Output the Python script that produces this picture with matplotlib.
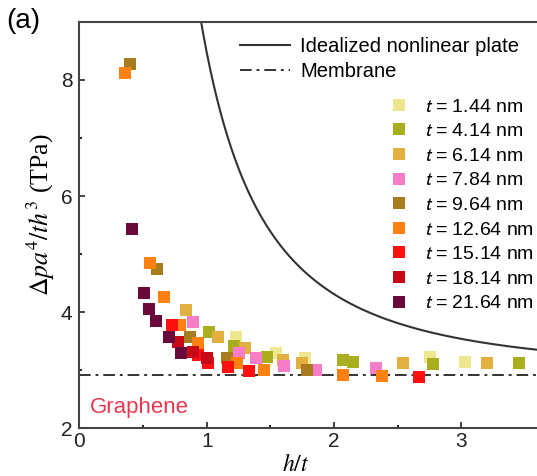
import numpy as np
import matplotlib
matplotlib.use('Agg')
import matplotlib.pyplot as plt
from matplotlib.font_manager import FontProperties

# thicknesses and their marker colours
labels = ['1.44', '4.14', '6.14', '7.84', '9.64', '12.64', '15.14', '18.14', '21.64']
colors = ['#EEE78F', '#A9AE1E', '#E2B040', '#F77DC9', '#A67C1E',
          '#FF8210', '#FF1010', '#C80A18', '#6A0A3A']

# h/t values for each thickness
x_144 = [1.23, 1.54, 1.77, 2.75, 3.03]
x_414 = [1.02, 1.21, 1.47, 2.07, 2.15, 2.78, 3.45]
x_614 = [0.84, 1.09, 1.30, 1.60, 1.75, 2.54, 3.20]
x_784 = [0.89, 1.25, 1.39, 1.61, 1.86, 2.33]
x_964 = [0.40, 0.61, 0.87, 1.16, 1.79]
x_1264 = [0.36, 0.555, 0.66, 0.79, 0.93, 1.24, 1.45, 2.07, 2.38]
x_1514 = [0.73, 0.93, 1.01, 1.17, 1.33, 2.67]
x_1814 = [0.77, 0.89, 1.00]
x_2164 = [0.41, 0.51, 0.55, 0.60, 0.70, 0.80]

# dp a^4 / t h^3 in TPa
y_144 = [3.57, 3.29, 3.21, 3.22, 3.14]
y_414 = [3.66, 3.41, 3.22, 3.17, 3.14, 3.10, 3.12]
y_614 = [4.03, 3.57, 3.38, 3.17, 3.12, 3.12, 3.12]
y_784 = [3.83, 3.29, 3.20, 3.07, 3.00, 3.03]
y_964 = [8.28, 4.74, 3.57, 3.20, 3.00]
y_1264 = [8.12, 4.84, 4.26, 3.78, 3.47, 3.12, 3.00, 2.91, 2.89]
y_1514 = [3.78, 3.26, 3.12, 3.05, 2.99, 2.88]
y_1814 = [3.48, 3.31, 3.20]
y_2164 = [5.43, 4.33, 4.05, 3.84, 3.57, 3.29]

xs = [x_144, x_414, x_614, x_784, x_964, x_1264, x_1514, x_1814, x_2164]
ys = [y_144, y_414, y_614, y_784, y_964, y_1264, y_1514, y_1814, y_2164]

# membrane limit and plate bending term
membrane = 2.92
bending = 5.55

fig = plt.figure(figsize=(5.37, 4.76), dpi=100)
ax = fig.add_axes([0.148, 0.1008, 0.8535, 0.853])

sans = 'Liberation Sans'
serif = 'Liberation Serif'

hx = np.linspace(0.9, 3.6, 300)
line_plate, = ax.plot(hx, membrane + bending / hx**2, color='#333333', lw=1.5)
line_mem = ax.axhline(membrane, color='#333333', lw=1.4, ls=(0, (6, 2.5, 1.5, 2.5)))

handles = []
for x, y, c, lab in zip(xs, ys, colors, labels):
    h, = ax.plot(x, y, 's', ms=9, color=c, mew=0, ls='none', label='$t$ = ' + lab + ' nm')
    handles.append(h)

ax.set_xlim(0, 3.6)
ax.set_ylim(2, 9)
ax.set_xticks([0, 1, 2, 3])
ax.set_xticks([0.5, 1.5, 2.5], minor=True)
ax.set_yticks([2, 4, 6, 8])
ax.set_yticks([3, 5, 7], minor=True)
ax.tick_params(which='major', direction='in', length=4, width=1.2, labelsize=15, colors='#222222')
ax.tick_params(axis='x', pad=3)
ax.tick_params(axis='y', pad=5)
ax.tick_params(which='minor', direction='in', length=2.5, width=1.2)
for t in ax.get_xticklabels() + ax.get_yticklabels():
    t.set_fontfamily(sans)
for s in ['left', 'bottom', 'top']:
    ax.spines[s].set_linewidth(1.5)
    ax.spines[s].set_color('#444444')
ax.spines['right'].set_visible(False)

ax.set_xlabel('$h/t$', fontsize=17, math_fontfamily='stix')
ax.xaxis.set_label_coords((296 - 79.5) / 458.3, -0.058)
ax.set_ylabel(r'$\mathit{\Delta}pa^4/th^3$ (TPa)', fontsize=18.5, family=serif,
              math_fontfamily='stix')
ax.yaxis.set_label_coords(-0.05, 0.525)

ax.text(0.08, 2.36, 'Graphene', color='#E8384F', fontsize=16, family=sans, va='center')
fig.text(0.012, 0.955, '(a)', fontsize=20, family=sans, va='center')

leg1 = ax.legend([line_plate, line_mem], ['Idealized nonlinear plate', 'Membrane'],
                 loc='upper left', bbox_to_anchor=(240 / 537, (476 - 37) / 476),
                 bbox_transform=fig.transFigure, frameon=False, borderpad=0, borderaxespad=0,
                 handlelength=2.5, handletextpad=0.5, labelspacing=0.28,
                 prop=FontProperties(family=sans, size=14.5))
ax.add_artist(leg1)

ax.legend(handles=handles, loc='upper left', bbox_to_anchor=(389 / 537, (476 - 98) / 476),
          bbox_transform=fig.transFigure, frameon=False, borderpad=0, borderaxespad=0,
          handlelength=1.0, handletextpad=0.8, labelspacing=0.36,
          prop=FontProperties(family=sans, size=14, math_fontfamily='stixsans'))

fig.savefig('out.png', dpi=100)
